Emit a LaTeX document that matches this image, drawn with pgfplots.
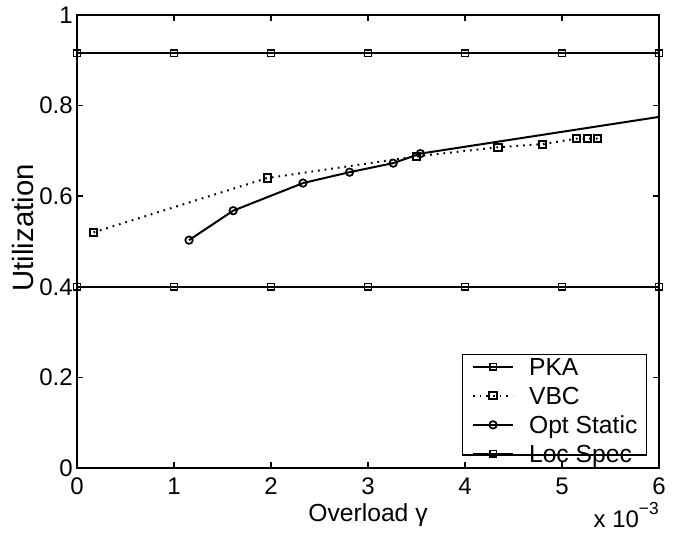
\documentclass[border=0pt]{standalone}
\usepackage{fontspec}
\setmainfont{Liberation Sans}
\usepackage{pgfplots}
\pgfplotsset{compat=1.18}
\begin{document}
\begin{tikzpicture}
\begin{axis}[
  name=ax,
  scale only axis,
  width=436.5pt, height=339.75pt,
  xmin=0, xmax=6, ymin=0, ymax=1,
  xtick={0,1,2,3,4,5,6},
  xticklabels={0,1,2,3,4,5,6},
  ytick={0,0.2,0.4,0.6,0.8,1},
  yticklabels={0,0.2,0.4,0.6,0.8,1},
  tick align=inside,
  major tick length=4.5pt,
  tick style={line width=1.1pt, black},
  axis line style={line width=1.5pt},
  font=\fontsize{18.5}{22}\selectfont,
  tick label style={font=\fontsize{18}{21}\selectfont, inner sep=0pt},
  xticklabel style={yshift=-7pt},
  yticklabel style={xshift=-3pt},
  xlabel={Overload γ},
  ylabel={Utilization},
  xlabel style={at={([yshift=-40pt]axis description cs:0.5,0)}, anchor=base},
  ylabel style={at={([xshift=-40.5pt]axis description cs:0,0.53)}, anchor=center, font=\fontsize{22}{26}\selectfont},
  legend style={
    at={(0.6615,0.2517)}, anchor=north west,
    draw=black, line width=1.1pt, fill=white,
    inner xsep=7pt, inner ysep=-5.7pt,
    column sep=11.25pt, row sep=0.35pt,
    cells={anchor=base west},
    nodes={inner sep=0pt, text height=21.4pt, text depth=0pt},
    font=\fontsize{18.5}{22}\selectfont,
  },
  legend image code/.code={%
    \draw[#1, mark indices={2}] plot coordinates {(0pt,6.6pt) (15pt,6.6pt) (30pt,6.6pt)};},
]
\addplot[black, line width=1.5pt, mark=square, mark size=2.5pt, mark options={line width=1.2pt}]
  coordinates {(0,0.916) (1,0.916) (2,0.916) (3,0.916) (4,0.916) (5,0.916) (6,0.916)};
\addlegendentry{PKA}
\addplot[black, line width=1.5pt, dash pattern=on 1.3pt off 3.7pt, mark=square, mark size=2.7pt, mark options={solid, line width=1.5pt}]
  coordinates {(0.17,0.520) (1.96,0.640) (3.50,0.688) (4.34,0.708) (4.80,0.715) (5.15,0.727) (5.26,0.727) (5.37,0.727)};
\addlegendentry{VBC}
\addplot[black, line width=1.5pt, mark=o, mark size=2.8pt, mark options={line width=1.3pt}, mark indices={1,2,3,4,5,6}]
  coordinates {(1.155,0.503) (1.61,0.568) (2.33,0.629) (2.81,0.653) (3.26,0.673) (3.54,0.694) (7.0,0.808)};
\addlegendentry{Opt Static}
\addplot[black, line width=1.5pt, mark=square, mark size=2.5pt, mark options={line width=1.2pt}]
  coordinates {(0,0.4) (1,0.4) (2,0.4) (3,0.4) (4,0.4) (5,0.4) (6,0.4)};
\addlegendentry{Loc Spec}
\end{axis}
\node[anchor=base east, font=\fontsize{18}{21}\selectfont, inner sep=0pt] at ([yshift=-44.5pt]ax.south east) {x 10\raisebox{10pt}{\fontsize{13}{15}\selectfont −3}};
\pgfresetboundingbox
\path ([shift={(-57.75pt,-48.75pt)}]ax.south west) rectangle ([shift={(14.25pt,11.25pt)}]ax.north east);
\end{tikzpicture}
\end{document}
